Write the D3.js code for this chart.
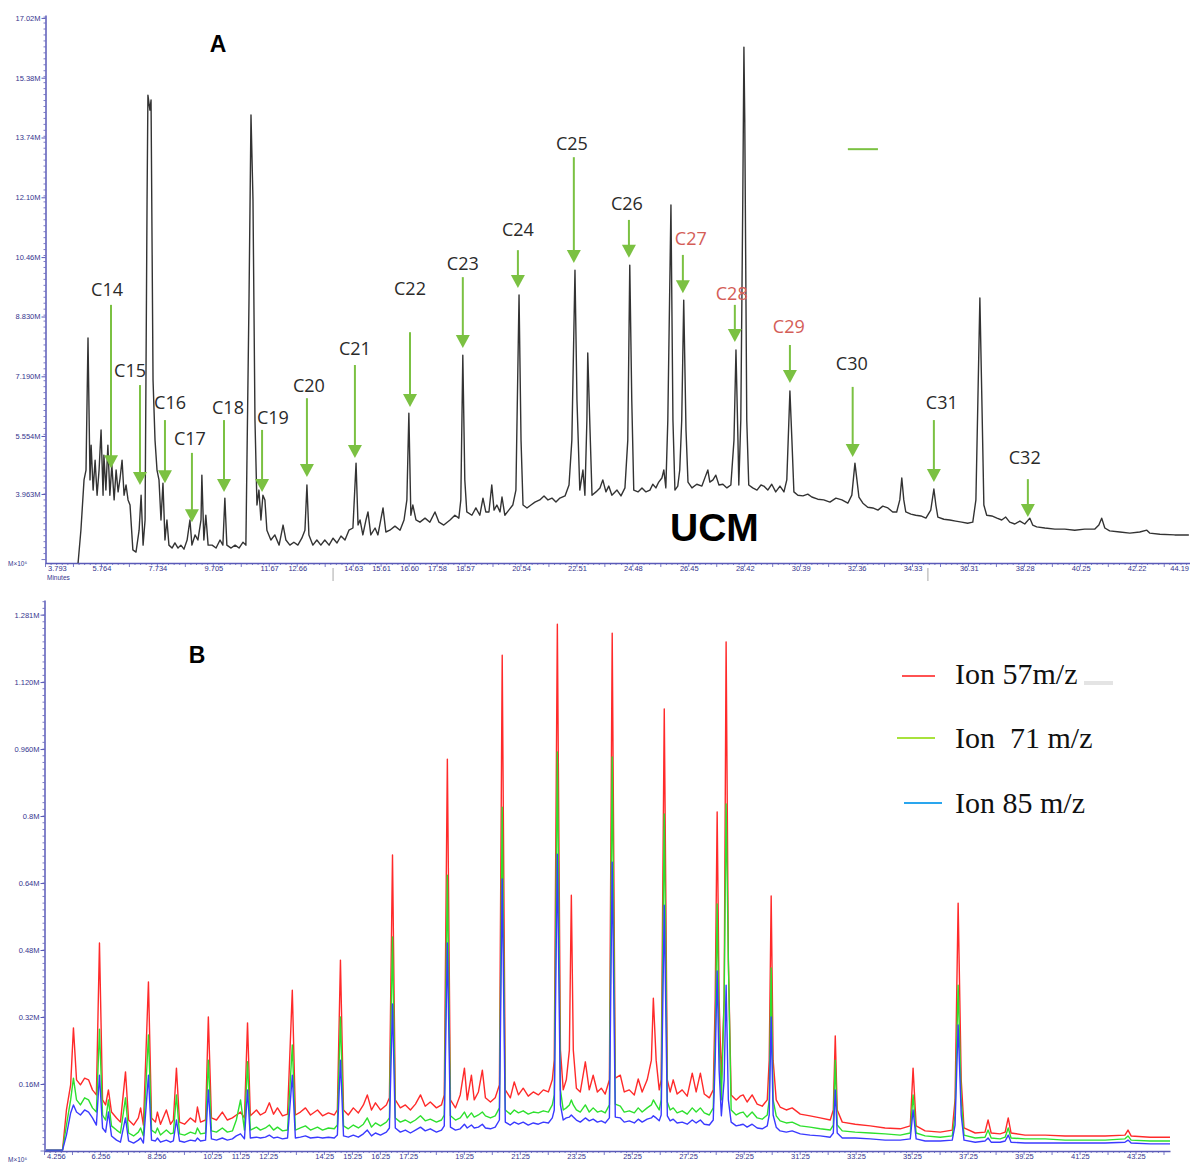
<!DOCTYPE html>
<html>
<head>
<meta charset="utf-8">
<title>GC-MS chromatograms</title>
<script src="https://d3js.org/d3.v7.min.js"></script>
<style>
  body { margin: 0; background: #fff; }
  text { font-family: "Liberation Sans", Arial, sans-serif; }
</style>
</head>
<body>
<script>
// ---------- panel A : TIC (time in min, intensity in M counts) ----------
var ticTrace = [
  [4.94,2.07],[5.04,2.97],[5.15,4.35],[5.22,4.62],[5.29,8.24],[5.36,4.35],[5.40,5.30],[5.47,4.07],[5.54,4.89],[5.61,3.93],
  [5.68,4.62],[5.75,5.72],[5.82,3.93],[5.85,5.03],[5.92,4.07],[5.99,5.30],[6.06,3.93],[6.13,4.76],[6.21,3.80],[6.28,4.62],
  [6.35,4.02],[6.42,4.40],[6.49,4.89],[6.56,3.93],[6.63,4.21],[6.70,3.80],[6.77,3.66],[6.87,2.43],[6.98,2.37],[7.09,2.97],
  [7.16,3.93],[7.23,2.56],[7.30,3.25],[7.37,12.03],[7.40,14.90],[7.47,14.49],[7.51,14.77],[7.58,7.09],[7.65,5.44],[7.72,4.62],
  [7.79,4.35],[7.86,3.25],[7.93,4.26],[8.00,2.70],[8.07,3.25],[8.14,2.56],[8.25,2.48],[8.35,2.62],[8.46,2.48],[8.56,2.56],
  [8.67,2.45],[8.78,2.70],[8.88,3.25],[8.95,2.56],[9.06,2.84],[9.16,2.70],[9.27,3.25],[9.30,4.48],[9.37,2.70],[9.44,3.38],
  [9.52,2.56],[9.66,2.56],[9.80,2.48],[9.94,2.70],[10.04,2.56],[10.11,3.85],[10.18,2.56],[10.33,2.48],[10.47,2.56],[10.61,2.48],
  [10.75,2.64],[10.85,2.56],[10.96,9.28],[11.03,14.36],[11.10,12.03],[11.17,5.99],[11.24,3.66],[11.31,4.07],[11.38,3.25],[11.45,3.93],
  [11.52,3.80],[11.59,2.97],[11.73,2.70],[11.87,2.84],[12.02,2.56],[12.16,3.11],[12.26,2.70],[12.40,2.56],[12.54,2.64],[12.68,2.56],
  [12.82,2.75],[12.93,2.97],[13.00,4.21],[13.07,2.84],[13.21,2.56],[13.35,2.70],[13.49,2.56],[13.63,2.70],[13.78,2.56],[13.92,2.75],
  [14.06,2.62],[14.20,2.81],[14.34,2.70],[14.48,2.97],[14.62,3.03],[14.73,4.81],[14.80,3.11],[14.87,3.25],[14.97,2.84],[15.08,3.25],
  [15.15,3.47],[15.25,2.84],[15.40,3.03],[15.50,2.84],[15.68,3.58],[15.78,2.92],[15.92,2.97],[16.10,3.08],[16.28,2.97],[16.42,3.25],
  [16.52,3.80],[16.59,6.18],[16.66,3.38],[16.73,3.66],[16.84,3.25],[16.98,3.19],[17.16,3.30],[17.33,3.19],[17.51,3.47],[17.65,3.19],
  [17.82,3.11],[18.04,3.25],[18.21,3.38],[18.35,3.30],[18.42,3.80],[18.49,7.77],[18.56,4.35],[18.63,3.47],[18.81,3.38],[18.95,3.58],
  [19.09,3.38],[19.20,3.85],[19.30,3.47],[19.41,3.47],[19.51,4.21],[19.59,3.52],[19.69,3.66],[19.80,3.47],[19.87,3.88],[19.97,3.38],
  [20.11,3.52],[20.25,3.66],[20.36,4.07],[20.47,9.42],[20.54,5.44],[20.61,3.66],[20.75,3.58],[20.89,3.66],[21.03,3.74],[21.20,3.80],
  [21.35,3.91],[21.49,3.80],[21.63,3.85],[21.77,3.74],[21.91,3.85],[22.09,3.91],[22.23,4.21],[22.33,5.44],[22.44,10.10],[22.51,6.54],
  [22.61,4.07],[22.72,4.62],[22.79,3.93],[22.86,5.99],[22.89,7.83],[22.97,5.72],[23.04,3.93],[23.18,4.02],[23.32,4.13],[23.42,4.35],
  [23.53,4.02],[23.63,4.18],[23.74,3.93],[23.92,4.07],[24.06,3.91],[24.20,4.13],[24.30,5.44],[24.37,10.24],[24.44,6.54],[24.51,4.07],
  [24.66,4.02],[24.80,4.13],[24.94,4.02],[25.08,4.07],[25.18,4.23],[25.29,4.13],[25.39,4.29],[25.50,4.40],[25.57,4.62],[25.64,4.13],
  [25.71,5.99],[25.82,11.89],[25.89,5.99],[25.96,4.07],[26.06,4.18],[26.13,4.62],[26.20,5.99],[26.27,9.28],[26.35,5.72],[26.42,4.29],
  [26.56,4.13],[26.73,4.23],[26.91,4.18],[27.05,4.48],[27.12,4.62],[27.19,4.29],[27.30,4.35],[27.40,4.48],[27.51,4.21],[27.65,4.23],
  [27.79,4.13],[27.93,4.21],[28.04,5.44],[28.11,7.91],[28.18,5.44],[28.21,4.21],[28.28,5.99],[28.35,12.03],[28.39,16.22],[28.42,14.22],
  [28.49,5.99],[28.56,4.21],[28.70,4.13],[28.85,4.07],[28.99,4.21],[29.09,4.18],[29.23,4.07],[29.37,4.23],[29.51,4.02],[29.66,4.18],
  [29.80,4.02],[29.90,4.35],[30.01,6.79],[30.08,5.44],[30.15,4.02],[30.29,3.93],[30.47,3.91],[30.64,3.96],[30.78,3.88],[30.99,3.82],
  [31.20,3.80],[31.42,3.74],[31.63,3.85],[31.84,3.80],[32.05,3.71],[32.19,3.93],[32.30,4.81],[32.37,4.35],[32.44,3.88],[32.58,3.71],
  [32.75,3.60],[32.93,3.58],[33.11,3.52],[33.28,3.63],[33.46,3.58],[33.63,3.47],[33.77,3.47],[33.88,3.80],[33.95,4.40],[34.02,3.80],
  [34.09,3.47],[34.27,3.41],[34.44,3.38],[34.62,3.36],[34.80,3.30],[34.97,3.52],[35.08,4.10],[35.15,3.66],[35.22,3.33],[35.43,3.27],
  [35.64,3.25],[35.85,3.22],[36.06,3.19],[36.27,3.16],[36.45,3.19],[36.56,3.80],[36.63,6.54],[36.70,9.34],[36.77,6.54],[36.84,3.66],
  [36.94,3.38],[37.12,3.36],[37.30,3.30],[37.47,3.25],[37.61,3.33],[37.75,3.19],[37.93,3.14],[38.11,3.22],[38.28,3.14],[38.46,3.30],
  [38.56,3.11],[38.70,3.06],[38.99,3.03],[39.34,3.00],[39.69,3.00],[40.04,2.97],[40.39,3.00],[40.75,3.00],[40.89,3.11],[40.99,3.30],
  [41.10,3.03],[41.27,2.95],[41.63,2.92],[41.98,2.89],[42.33,2.92],[42.58,2.97],[42.68,2.89],[43.04,2.86],[43.56,2.84],[44.06,2.84]
];

var ticYTicks  = [17.02, 15.38, 13.74, 12.10, 10.46, 8.830, 7.190, 5.554, 3.963];
var ticYLabels = ["17.02M","15.38M","13.74M","12.10M","10.46M","8.830M","7.190M","5.554M","3.963M"];
var ticXTicks  = [3.793,5.764,7.734,9.705,11.67,12.66,14.63,15.61,16.60,17.58,18.57,20.54,22.51,24.48,26.45,28.42,30.39,32.36,34.33,36.31,38.28,40.25,42.22,44.19];
var ticXLabels = ["3.793","5.764","7.734","9.705","11.67","12.66","14.63","15.61","16.60","17.58","18.57","20.54","22.51","24.48","26.45","28.42","30.39","32.36","34.33","36.31","38.28","40.25","42.22","44.19"];
var ticMarkers = [13.92, 34.87];

// n-alkane annotations (arrow x in min, arrow tip / tail and label in M counts)
var alkaneLabels     = ["C14","C15","C16","C17","C18","C19","C20","C21","C22","C23","C24","C25","C26","C27","C28","C29","C30","C31","C32"];
var alkaneArrowTime  = [6.10,7.12,8.00,8.95,10.08,11.42,13.00,14.69,16.63,18.49,20.43,22.40,24.34,26.24,28.07,30.01,32.22,35.08,38.39];
var alkaneArrowTip   = [4.67,4.21,4.26,3.19,4.02,4.02,4.43,4.95,6.35,7.97,9.61,10.30,10.44,9.47,8.13,7.01,4.98,4.29,3.33];
var alkaneArrowTail  = [9.15,6.95,5.99,5.09,5.99,5.72,6.59,7.50,8.40,9.91,10.65,13.20,11.48,10.52,9.15,8.05,6.90,5.99,4.37];
var alkaneLabelTime  = [5.96,6.77,8.18,8.88,10.22,11.80,13.07,14.69,16.63,18.49,20.43,22.33,24.27,26.52,27.96,29.97,32.19,35.36,38.28];
var alkaneLabelLevel = [9.39,7.17,6.29,5.31,6.16,5.88,6.76,7.77,9.42,10.11,11.04,13.40,11.75,10.79,9.28,8.38,7.36,6.29,4.78];
var redLabels = ["C27","C28","C29"];
var strayDash = [32.05, 33.11, 13.42];

// ---------- panel B : extracted ions (time in min, intensity in k counts) ----------
var ionTime = [
  4.29,4.90,5.04,5.19,5.29,5.40,5.54,5.69,5.83,5.97,
  6.11,6.22,6.33,6.44,6.54,6.65,6.83,6.97,7.15,7.26,
  7.44,7.61,7.69,7.79,7.97,8.08,8.22,8.29,8.40,8.61,
  8.76,8.86,8.97,9.08,9.26,9.47,9.65,9.72,9.83,10.01,
  10.11,10.22,10.40,10.61,10.79,10.97,11.11,11.26,11.40,11.51,
  11.61,11.83,11.97,12.15,12.29,12.44,12.58,12.76,12.94,13.11,
  13.22,13.40,13.58,13.76,14.01,14.19,14.40,14.61,14.72,14.83,
  14.94,15.11,15.29,15.47,15.65,15.79,15.94,16.08,16.26,16.47,
  16.58,16.69,16.79,16.97,17.15,17.33,17.51,17.69,17.86,18.04,
  18.26,18.44,18.54,18.65,18.76,18.94,19.11,19.26,19.36,19.51,
  19.61,19.76,19.90,20.01,20.19,20.36,20.51,20.61,20.72,20.90,
  21.04,21.19,21.36,21.54,21.72,21.90,22.08,22.26,22.40,22.47,
  22.58,22.69,22.79,22.90,23.01,23.08,23.15,23.26,23.40,23.58,
  23.72,23.86,24.01,24.15,24.29,24.44,24.54,24.65,24.83,24.97,
  25.15,25.33,25.47,25.61,25.79,25.94,26.01,26.11,26.22,26.29,
  26.40,26.51,26.61,26.72,26.86,27.04,27.22,27.40,27.54,27.69,
  27.83,28.01,28.15,28.22,28.29,28.36,28.44,28.54,28.61,28.69,
  28.79,28.97,29.11,29.22,29.36,29.54,29.72,29.90,30.08,30.15,
  30.22,30.29,30.40,30.54,30.76,30.97,31.26,31.61,31.97,32.33,
  32.44,32.51,32.58,32.76,33.22,33.76,34.29,34.83,35.19,35.29,
  35.40,35.72,36.26,36.69,36.79,36.90,37.01,37.11,37.51,37.86,
  37.97,38.08,38.40,38.58,38.69,38.79,39.29,40.01,40.72,41.44,
  42.15,42.86,42.97,43.08,43.76,44.47
];
var ion57 = [
  2,2,98,158,294,170,158,174,170,146,
  134,497,122,110,146,93,79,69,189,74,
  62,79,103,62,404,79,69,93,64,98,
  64,74,198,69,64,79,69,105,69,74,
  320,79,74,93,74,79,86,93,79,306,
  84,98,86,93,115,88,103,84,88,384,
  86,93,103,86,98,84,91,86,98,456,
  98,86,103,91,110,134,98,115,98,110,
  127,707,122,103,110,98,112,134,107,117,
  103,110,134,936,122,103,134,198,122,181,
  122,141,193,127,117,127,158,1184,146,127,
  165,134,150,131,141,134,146,141,170,217,
  1258,241,146,170,241,611,241,150,141,213,
  146,181,141,150,136,170,1237,174,181,141,
  146,134,172,141,170,217,365,217,146,170,
  1056,170,141,170,136,146,131,186,141,186,
  136,127,146,361,810,361,170,361,1216,456,
  134,122,131,134,117,134,112,107,122,217,
  609,217,122,105,98,103,88,84,79,74,
  98,275,98,69,64,60,55,53,60,198,
  60,48,45,50,122,592,170,55,43,45,
  74,43,41,45,79,43,38,38,36,36,
  36,38,50,36,33,33
];
var ion71 = [
  2,2,62,122,174,122,110,127,122,103,
  93,291,86,74,122,60,50,43,127,43,
  36,45,55,36,277,50,43,55,38,50,
  41,43,134,41,38,45,41,55,41,43,
  217,48,45,55,45,48,74,122,50,213,
  50,57,50,55,62,50,57,48,50,253,
  50,55,60,50,57,50,55,53,62,320,
  60,53,62,55,64,79,57,67,60,69,
  79,511,79,69,74,67,74,84,72,76,
  69,74,86,659,84,74,79,93,79,91,
  81,86,93,84,79,84,103,821,98,88,
  98,91,96,88,93,91,96,93,110,134,
  953,146,98,103,110,122,110,98,93,110,
  93,103,93,96,91,110,941,112,107,93,
  96,91,103,93,103,110,122,110,98,122,
  805,117,98,103,91,96,88,103,93,103,
  91,86,103,265,590,265,122,361,829,456,
  98,86,91,93,81,93,79,76,86,122,
  437,122,84,72,67,69,60,57,53,50,
  62,217,62,48,45,43,41,38,43,134,
  43,36,33,36,86,396,122,38,31,33,
  50,31,29,33,55,31,29,29,26,26,
  26,29,36,26,24,24
];
var ion85 = [
  2,2,38,91,110,93,86,98,93,79,
  62,181,55,45,93,36,26,21,79,24,
  19,26,31,19,181,26,24,31,21,26,
  21,24,74,24,21,26,24,31,24,26,
  146,29,26,31,26,29,36,41,29,146,
  31,33,31,33,38,31,33,29,31,181,
  31,33,36,31,33,31,33,31,38,217,
  36,33,38,33,41,50,36,43,38,45,
  55,351,55,45,50,43,50,57,48,53,
  45,50,60,497,57,50,53,64,55,62,
  55,57,64,55,53,57,74,650,69,62,
  69,64,69,62,67,64,69,67,79,98,
  709,110,74,79,81,86,81,74,69,79,
  72,76,69,72,67,79,690,81,79,69,
  72,67,76,69,76,79,84,79,72,86,
  587,84,72,76,67,69,64,74,67,74,
  64,62,74,217,430,193,84,170,396,122,
  69,60,62,64,57,64,55,53,60,86,
  320,86,57,48,45,48,41,38,36,33,
  43,146,43,31,31,29,26,26,29,98,
  29,24,24,26,62,301,86,26,21,24,
  31,21,21,24,38,21,19,19,19,19,
  19,21,26,19,17,17
];
var ionLabels  = ["Ion 57m/z", "Ion  71 m/z", "Ion 85 m/z"];
var ionYTicks  = [1281, 1120, 960, 800, 640, 480, 320, 160];
var ionYLabels = ["1.281M","1.120M","0.960M","0.8M","0.64M","0.48M","0.32M","0.16M"];
var ionXTicks  = [4.256,6.256,8.256,10.25,11.25,12.25,14.25,15.25,16.25,17.25,19.25,21.25,23.25,25.25,27.25,29.25,31.25,33.25,35.25,37.25,39.25,41.25,43.25];
var ionXLabels = ["4.256","6.256","8.256","10.25","11.25","12.25","14.25","15.25","16.25","17.25","19.25","21.25","23.25","25.25","27.25","29.25","31.25","33.25","35.25","37.25","39.25","41.25","43.25"];

// ---------- drawing ----------
var axisColor = "#5a5ab8", tickTextColor = "#35358e";

var svg = d3.select("body").append("svg")
    .attr("width", 1190)
    .attr("height", 1167);

var defs = svg.append("defs");
defs.append("clipPath").attr("id", "clipA").append("rect")
    .attr("x", 46).attr("y", 0).attr("width", 1144).attr("height", 563);
defs.append("clipPath").attr("id", "clipB").append("rect")
    .attr("x", 46).attr("y", 595).attr("width", 1124).attr("height", 556);

function styleAxis(g) {
  g.attr("font-family", "'Liberation Sans', Arial, sans-serif").attr("font-size", 7.5);
  g.select(".domain").attr("stroke", axisColor).attr("stroke-width", 1.5);
  g.selectAll(".tick line").attr("stroke", axisColor);
  g.selectAll(".tick text").attr("fill", tickTextColor);
}

function minorTicks(values, scale, horizontal, pos, bigEvery) {
  svg.append("g").selectAll("line").data(values).join("line")
    .attr("stroke", axisColor)
    .attr("stroke-width", 0.8)
    .attr(horizontal ? "x1" : "y1", function(d) { return scale(d); })
    .attr(horizontal ? "x2" : "y2", function(d) { return scale(d); })
    .attr(horizontal ? "y1" : "x1", pos)
    .attr(horizontal ? "y2" : "x2", function(d, i) {
      var len = (i % bigEvery === 0) ? 4 : 2;
      return horizontal ? pos + len : pos - len;
    });
}

// ===== panel A =====
var xA = d3.scaleLinear().domain([3.793, 44.1]).range([45.5, 1190]);
var yA = d3.scaleLinear().domain([2.07, 17.10]).range([563, 15]);

svg.append("g")
    .attr("transform", "translate(45.5,0)")
    .call(d3.axisLeft(yA).tickValues(ticYTicks)
      .tickFormat(function(d, i) { return ticYLabels[i]; })
      .tickSize(4).tickSizeOuter(0).tickPadding(1))
    .call(styleAxis);

minorTicks(d3.range(-12, 90).map(function(i) { return 3.963 + i * 0.1635; })
    .filter(function(v) { return v >= 2.1 && v <= 17.1; }), yA, false, 45.5, 1000);

var gAx = svg.append("g")
    .attr("transform", "translate(0,563)")
    .call(d3.axisBottom(xA).tickValues(ticXTicks)
      .tickFormat(function(d, i) { return ticXLabels[i]; })
      .tickSize(0).tickSizeOuter(0).tickPadding(3))
    .call(styleAxis);
gAx.selectAll(".tick text").filter(function(d, i) { return i === 0; })
    .attr("text-anchor", "start").attr("x", 2);
gAx.selectAll(".tick text").filter(function(d, i) { return i === ticXTicks.length - 1; })
    .attr("text-anchor", "end").attr("x", -4);

minorTicks(d3.range(0, 210).map(function(i) { return 3.793 + i * 0.197; })
    .filter(function(v) { return v <= 44.3; }), xA, true, 563, 5);

svg.append("text").attr("x", 47).attr("y", 580)
    .attr("font-size", 6.5).attr("fill", tickTextColor).text("Minutes");
svg.append("text").attr("x", 8).attr("y", 566)
    .attr("font-size", 6.5).attr("fill", tickTextColor).text("M×10⁶");

svg.append("g").selectAll("line").data(ticMarkers).join("line")
    .attr("x1", function(d) { return xA(d); }).attr("x2", function(d) { return xA(d); })
    .attr("y1", 568).attr("y2", 581)
    .attr("stroke", "#a8a8a8").attr("stroke-width", 1);

var lineA = d3.line()
    .x(function(d) { return xA(d[0]); })
    .y(function(d) { return yA(d[1]); });

svg.append("path")
    .datum(ticTrace)
    .attr("clip-path", "url(#clipA)")
    .attr("d", lineA)
    .attr("fill", "none")
    .attr("stroke", "#333")
    .attr("stroke-width", 1.4)
    .attr("stroke-linejoin", "round");

// arrows + labels
var arrowGreen = "#7bc142";
var gArrows = svg.append("g");
alkaneLabels.forEach(function(lab, i) {
  var x = xA(alkaneArrowTime[i]);
  var yTip = yA(alkaneArrowTip[i]);
  var yTail = yA(alkaneArrowTail[i]);
  gArrows.append("line")
      .attr("x1", x).attr("x2", x)
      .attr("y1", yTail).attr("y2", yTip - 10)
      .attr("stroke", arrowGreen).attr("stroke-width", 2);
  gArrows.append("path")
      .attr("d", "M" + (x - 7) + "," + (yTip - 13) + "L" + (x + 7) + "," + (yTip - 13) + "L" + x + "," + yTip + "Z")
      .attr("fill", arrowGreen);
  gArrows.append("text")
      .attr("x", xA(alkaneLabelTime[i]))
      .attr("y", yA(alkaneLabelLevel[i]))
      .attr("text-anchor", "middle")
      .style("font-family", "'Open Sans', sans-serif")
      .style("font-size", "18px")
      .attr("fill", redLabels.indexOf(lab) >= 0 ? "#d45d57" : "#2a2a2a")
      .text(lab);
});

svg.append("line")
    .attr("x1", xA(strayDash[0])).attr("x2", xA(strayDash[1]))
    .attr("y1", yA(strayDash[2])).attr("y2", yA(strayDash[2]))
    .attr("stroke", arrowGreen).attr("stroke-width", 2);

svg.append("text").attr("x", 218).attr("y", 52)
    .attr("text-anchor", "middle")
    .style("font-weight", "bold").style("font-size", "23px").text("A");

svg.append("text").attr("x", 670).attr("y", 541)
    .style("font-weight", "bold").style("font-size", "39px").text("UCM");

// ===== panel B =====
var xB = d3.scaleLinear().domain([4.256, 44.47]).range([44.5, 1170]);
var yB = d3.scaleLinear().domain([0, 1316]).range([1151, 600]);

svg.append("g")
    .attr("transform", "translate(44.5,0)")
    .call(d3.axisLeft(yB).tickValues(ionYTicks)
      .tickFormat(function(d, i) { return ionYLabels[i]; })
      .tickSize(4).tickSizeOuter(0).tickPadding(1))
    .call(styleAxis);

minorTicks(d3.range(0, 83).map(function(i) { return i * 16; }), yB, false, 44.5, 1000);

var gBx = svg.append("g")
    .attr("transform", "translate(0,1151)")
    .call(d3.axisBottom(xB).tickValues(ionXTicks)
      .tickFormat(function(d, i) { return ionXLabels[i]; })
      .tickSize(0).tickSizeOuter(0).tickPadding(3))
    .call(styleAxis);
gBx.selectAll(".tick text").filter(function(d, i) { return i === 0; })
    .attr("text-anchor", "start").attr("x", 2);

minorTicks(d3.range(0, 202).map(function(i) { return 4.256 + i * 0.2; })
    .filter(function(v) { return v <= 44.4; }), xB, true, 1151, 5);

svg.append("text").attr("x", 8).attr("y", 1162)
    .attr("font-size", 6.5).attr("fill", tickTextColor).text("M×10⁶");

var ionSeries = [
  { values: ion57, color: "#ff2a2a" },
  { values: ion71, color: "#2ee02e" },
  { values: ion85, color: "#3a3aff" }
];

var lineB = d3.line()
    .x(function(d, i) { return xB(ionTime[i]); })
    .y(function(d) { return yB(d); });

svg.append("g").attr("clip-path", "url(#clipB)")
  .selectAll("path").data(ionSeries).join("path")
    .attr("d", function(s) { return lineB(s.values); })
    .attr("fill", "none")
    .attr("stroke", function(s) { return s.color; })
    .attr("stroke-width", 1.4)
    .attr("stroke-linejoin", "round");

svg.append("text").attr("x", 197).attr("y", 663)
    .attr("text-anchor", "middle")
    .style("font-weight", "bold").style("font-size", "23px").text("B");

// legend
var legendColors = ["#ff5252", "#a8e23c", "#2aa6ee"];
var legendRows = [
  { x1: 902, x2: 935, y: 676, ty: 684 },
  { x1: 897, x2: 935, y: 738, ty: 748 },
  { x1: 904, x2: 942, y: 803, ty: 813 }
];
var gLeg = svg.append("g");
ionLabels.forEach(function(lab, i) {
  var r = legendRows[i];
  gLeg.append("line")
      .attr("x1", r.x1).attr("x2", r.x2).attr("y1", r.y).attr("y2", r.y)
      .attr("stroke", legendColors[i]).attr("stroke-width", 2);
  gLeg.append("text")
      .attr("x", 955).attr("y", r.ty)
      .attr("xml:space", "preserve")
      .style("white-space", "pre")
      .style("font-family", "'Liberation Serif', 'Times New Roman', serif")
      .style("font-size", "30px")
      .attr("fill", "#111")
      .text(lab);
});
gLeg.append("rect")
    .attr("x", 1084).attr("y", 681).attr("width", 29).attr("height", 4)
    .attr("fill", "#e4e4e4");
</script>
</body>
</html>
